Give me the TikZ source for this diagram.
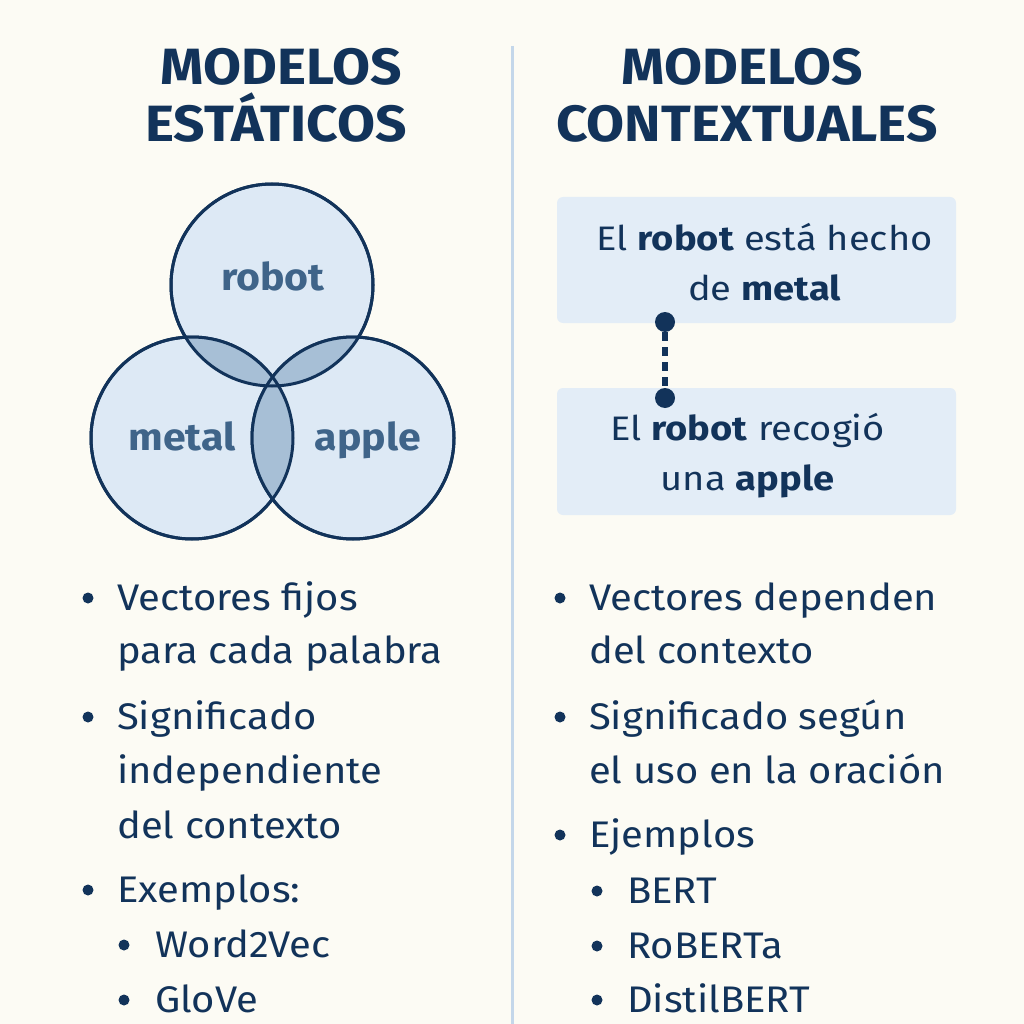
\documentclass[tikz,border=0pt]{standalone}
\usepackage{fontspec}
\setmainfont{Fira Sans}[FakeStretch=1.08]
\newfontfamily\boxfont{Fira Sans}[FakeStretch=1.12]
\usepackage{tikz}
\usetikzlibrary{positioning}

\definecolor{bgcream}{HTML}{FCFBF4}
\definecolor{navy}{HTML}{12335A}
\definecolor{vennlabel}{HTML}{3F6489}
\definecolor{vennfill}{HTML}{DDE9F5}
\definecolor{vennover}{HTML}{A7BFD6}
\definecolor{boxfill}{HTML}{E3EDF7}
\definecolor{divider}{HTML}{C4D7EA}

\tikzset{
  title/.style={anchor=base,text=navy,font=\fontsize{51}{51}\selectfont\bfseries,inner sep=0pt},
  venn/.style={circle,draw=navy,line width=3pt,minimum size=202pt,inner sep=0pt},
  vennword/.style={anchor=base,text=vennlabel,font=\fontsize{38}{38}\selectfont\bfseries,inner sep=0pt},
  sentence/.style={fill=boxfill,rounded corners=6pt,minimum width=399pt},
  phrase/.style={align=center,text=navy,font=\fontsize{34}{50}\selectfont\boxfont},
  item/.style={anchor=base west,text=navy,font=\fontsize{37}{37}\selectfont,inner sep=0pt},
  bullet/.style={circle,fill=navy,minimum size=11pt,inner sep=0pt},
  link/.style={draw=navy,line width=6pt,dash pattern=on 9pt off 6pt},
  linkend/.style={circle,fill=navy,minimum size=20pt,inner sep=0pt}
}

\begin{document}
\begin{tikzpicture}[x=1pt,y=-1pt]
  \useasboundingbox[fill=bgcream] (0,0) rectangle (1024,1024);

  % divider
  \draw[divider,line width=3pt] (512,46) -- (512,1024);

  % titles
  \node[title] (t1a) at (281,85)  {MODELOS};
  \node[title] (t1b) at (276,142) {ESTÁTICOS};
  \node[title] (t2a) at (742,85)  {MODELOS};
  \node[title] (t2b) at (747,142) {CONTEXTUALES};

  % venn diagram
  \node[venn,fill=vennfill] (robot) at (272,285) {};
  \node[venn,fill=vennfill] (metal) at (192,438) {};
  \node[venn,fill=vennfill] (apple) at (353,438) {};
  \begin{scope}
    \clip (272,285) circle (101);
    \fill[vennover] (192,438) circle (101);
    \fill[vennover] (353,438) circle (101);
  \end{scope}
  \begin{scope}
    \clip (192,438) circle (101);
    \fill[vennover] (353,438) circle (101);
  \end{scope}
  \node[venn] at (robot) {};
  \node[venn] at (metal) {};
  \node[venn] at (apple) {};
  \node[vennword] (w1) at (273,290) {robot};
  \node[vennword] (w2) at (182,450) {metal};
  \node[vennword] (w3) at (368,450) {apple};

  % sentences
  \node[sentence,minimum height=126pt] (s1) at (756.5,260) {};
  \node[phrase] (p1) at ([xshift=8pt,yshift=-2pt]s1.center)
    {El \textbf{robot} está hecho\\de \textbf{metal}};
  \node[sentence,minimum height=127pt] (s2) at (756.5,451.5) {};
  \node[phrase] (p2) at ([xshift=-9pt,yshift=-4pt]s2.center)
    {El \textbf{robot} recogió\\una \textbf{apple}};
  \node[linkend] (d1) at (665,322) {};
  \node[linkend] (d2) at (665,398) {};
  \draw[link] (d1) -- (d2);

  % static list
  \node[bullet] (b1) at (88,598) {};
  \node[item] (l1) at (117,610) {Vectores fijos};
  \node[item] (l2) at (117,663) {para cada palabra};
  \node[bullet] (b2) at (88,717) {};
  \node[item] (l3) at (117,729) {Significado};
  \node[item] (l4) at (117,783) {independiente};
  \node[item] (l5) at (117,838) {del contexto};
  \node[bullet] (b3) at (88,890) {};
  \node[item] (l6) at (117,902) {Exemplos:};
  \node[bullet] (b4) at (124,945) {};
  \node[item] (l7) at (155,957) {Word2Vec};
  \node[bullet] (b5) at (124,1000) {};
  \node[item] (l8) at (155,1012) {GloVe};

  % contextual list
  \node[bullet] (c1) at (560,598) {};
  \node[item] (r1) at (589,610) {Vectores dependen};
  \node[item] (r2) at (589,663) {del contexto};
  \node[bullet] (c2) at (560,717) {};
  \node[item] (r3) at (589,729) {Significado según};
  \node[item] (r4) at (589,783) {el uso en la oración};
  \node[bullet] (c3) at (560,835) {};
  \node[item] (r5) at (589,847) {Ejemplos};
  \node[bullet] (c4) at (597,891) {};
  \node[item] (r6) at (627,903) {BERT};
  \node[bullet] (c5) at (597,946) {};
  \node[item] (r7) at (627,958) {RoBERTa};
  \node[bullet] (c6) at (597,1000) {};
  \node[item] (r8) at (627,1012) {DistilBERT};
\end{tikzpicture}
\end{document}
